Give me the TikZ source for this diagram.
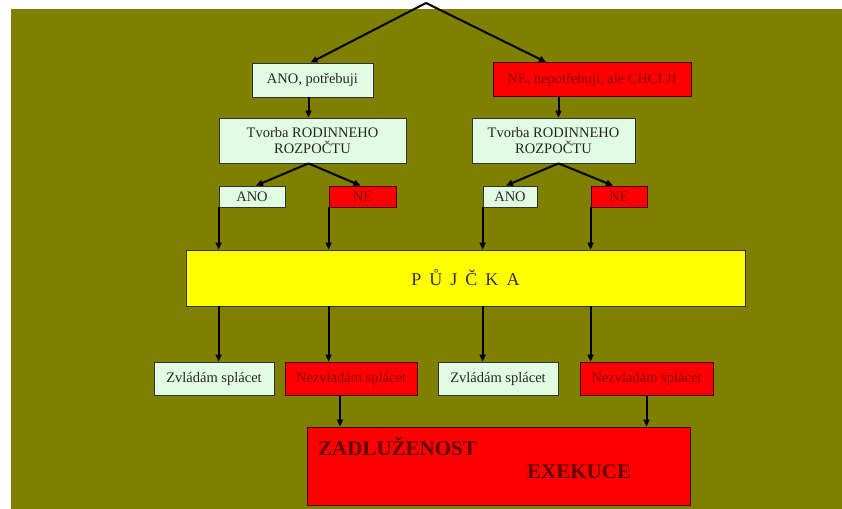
\documentclass[tikz,border=0pt]{standalone}
\usepackage{fontspec}
\setmainfont{Liberation Serif}
\usetikzlibrary{arrows.meta}

\definecolor{olivebg}{RGB}{128,128,0}
\definecolor{mintbox}{RGB}{224,252,226}
\definecolor{redbox}{RGB}{255,0,0}
\definecolor{redtext}{RGB}{140,0,0}
\definecolor{yellowbox}{RGB}{255,255,0}

\begin{document}
\begin{tikzpicture}[x=1pt,y=-1pt]
\tikzset{
  yesbox/.style={draw=black!80, fill=mintbox, inner sep=0pt, line width=0.8pt,
    font=\fontsize{14.5}{16}\selectfont, text=black!85},
  nobox/.style={draw=black!70!red, fill=redbox, inner sep=0pt, line width=0.8pt,
    font=\fontsize{14.5}{16}\selectfont, text=redtext},
  link/.style={line width=2pt, black, -{Triangle[length=7pt,width=6pt]}}
}
% background
\useasboundingbox (0,0) rectangle (842,508);
\fill [white] (0,0) rectangle (842,508);
\fill [olivebg] (11,9) rectangle (852,518);
\coordinate (top) at (426,3);
% first level
\node [yesbox, minimum width=121, minimum height=34] (anoA) at (312.5,80) {ANO, potřebuji};
\node [nobox, minimum width=198, minimum height=34] (neA) at (592,79.5) {NE, nepotřebuji, ale CHCI JI};
% budget
\node [yesbox, minimum width=187, minimum height=45, align=center] (rozA) at (312.5,140.5) {Tvorba RODINNEHO\\ROZPOČTU};
\node [yesbox, minimum width=163, minimum height=45, align=center] (rozB) at (553.5,140.5) {Tvorba RODINNEHO\\ROZPOČTU};
% answers
\node [yesbox, minimum width=66, minimum height=21] (anoL) at (252,196.5) {ANO};
\node [nobox, minimum width=67, minimum height=21] (neL) at (362.5,196.5) {NE};
\node [yesbox, minimum width=54, minimum height=21] (anoR) at (510,196.5) {ANO};
\node [nobox, minimum width=56, minimum height=21] (neR) at (619,196.5) {NE};
% loan
\node [draw=black!80, fill=yellowbox, line width=0.8pt, minimum width=559, minimum height=56,
  font=\fontsize{18}{20}\selectfont, text=black!80] (pujcka) at (465.5,278)
  {\raisebox{-8pt}{P\hspace{8pt}Ů\hspace{8pt}J\hspace{8pt}Č\hspace{8pt}K\hspace{8pt}A}};
% repayment
\node [yesbox, minimum width=120, minimum height=33] (zvL) at (214,378.5) {Zvládám splácet};
\node [nobox, minimum width=132, minimum height=33] (nezL) at (351,378.5) {Nezvladám splácet};
\node [yesbox, minimum width=120, minimum height=33] (zvR) at (498,378.5) {Zvládám splácet};
\node [nobox, minimum width=133, minimum height=33] (nezR) at (646.5,378.5) {Nezvladám splácet};
% result
\node [draw=black!70!red, fill=redbox, line width=0.8pt, minimum width=383, minimum height=78] (zad) at (498.5,466) {};
\node [anchor=west, inner sep=0pt, font=\fontsize{21}{23}\bfseries\selectfont, text=redtext!70!black] (zadtext) at (318,446) {ZADLUŽENOST};
\node [anchor=west, inner sep=0pt, font=\fontsize{21}{23}\bfseries\selectfont, text=redtext!70!black] (exetext) at (527,472) {EXEKUCE};
% arrows
\draw [link] (top) -- ([xshift=-2]anoA.north);
\draw [link] (top) -- ([xshift=-46]neA.north);
\draw [link] ([xshift=-4]anoA.south) -- ([xshift=-4]rozA.north);
\draw [link] ([xshift=5]rozB.north |- neA.south) -- ([xshift=5]rozB.north);
\draw [link] ([xshift=-4]rozA.south) -- ([xshift=4]anoL.north);
\draw [link] ([xshift=-4]rozA.south) -- ([xshift=-2]neL.north);
\draw [link] ([xshift=5]rozB.south) -- ([xshift=-4]anoR.north);
\draw [link] ([xshift=5]rozB.south) -- ([xshift=-6]neR.north);
\draw [link] (anoL.south west) -- (anoL.south west |- pujcka.north);
\draw [link] (neL.south west) -- (neL.south west |- pujcka.north);
\draw [link] (anoR.south west) -- (anoR.south west |- pujcka.north);
\draw [link] (neR.south west) -- (neR.south west |- pujcka.north);
\draw [link] (anoL.south west |- pujcka.south) -- (anoL.south west |- zvL.north);
\draw [link] (neL.south west |- pujcka.south) -- (neL.south west |- nezL.north);
\draw [link] (anoR.south west |- pujcka.south) -- (anoR.south west |- zvR.north);
\draw [link] (neR.south west |- pujcka.south) -- (neR.south west |- nezR.north);
\draw [link] ([xshift=-11]nezL.south) -- ([xshift=-11]nezL.south |- zad.north);
\draw [link] (nezR.south) -- (nezR.south |- zad.north);
\end{tikzpicture}
\end{document}
